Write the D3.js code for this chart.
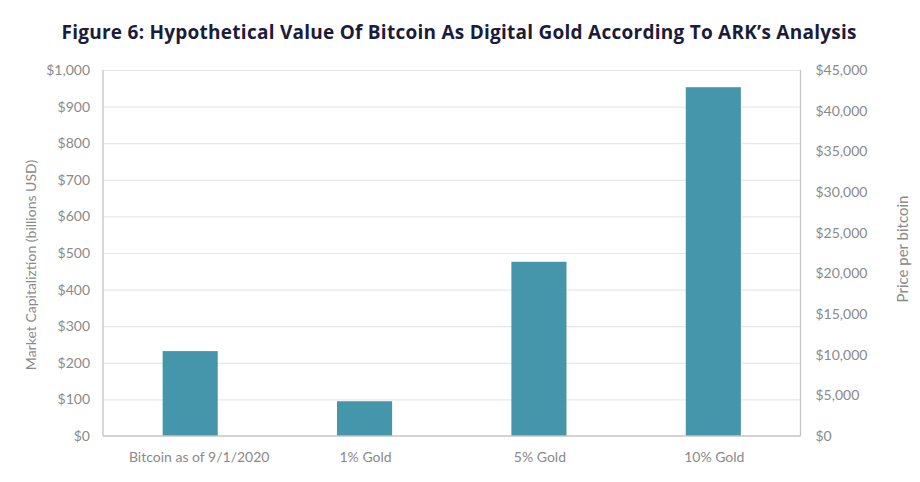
<!DOCTYPE html>
<html>
<head>
<meta charset="utf-8">
<script src="https://cdn.jsdelivr.net/npm/d3@7"></script>
<style>
  html, body { margin: 0; padding: 0; background: #fff; }
  svg { display: block; }
</style>
</head>
<body>
<svg id="chart" width="920" height="482"></svg>
<script>
const categories = ["Bitcoin as of 9/1/2020", "1% Gold", "5% Gold", "10% Gold"];
const marketCap = [232, 95, 476, 953];
const leftTicks = [0, 100, 200, 300, 400, 500, 600, 700, 800, 900, 1000];
const rightTicks = [0, 5000, 10000, 15000, 20000, 25000, 30000, 35000, 40000, 45000];
const titleText = "Figure 6: Hypothetical Value Of Bitcoin As Digital Gold According To ARK\u2019s Analysis";
const leftLabel = "Market Capitaliztion (billions USD)";
const rightLabel = "Price per bitcoin";

const svg = d3.select("#chart");
const margin = { left: 103, right: 120, top: 70, bottom: 46 };
const W = 920, H = 482;
const x0 = margin.left, x1 = W - margin.right + 0.5;
const yTop = margin.top, yBot = H - margin.bottom;

const x = d3.scaleBand().domain(categories).range([x0, x1]).paddingInner(0.684).paddingOuter(0.342);
const yL = d3.scaleLinear().domain([0, 1000]).range([yBot, yTop]);
const yR = d3.scaleLinear().domain([0, 45000]).range([yBot, yTop]);

const textColor = "#8a8a8a";
const font = "Lato, 'Open Sans', sans-serif";

// title
svg.append("text").attr("x", 459).attr("y", 39).attr("text-anchor", "middle")
  .attr("font-family", "'Open Sans', Lato, sans-serif").attr("font-weight", 700)
  .attr("font-size", 19).attr("fill", "#1b1b3a").attr("textLength", 795)
  .text(titleText);

// gridlines
svg.append("g").selectAll("line").data(leftTicks.filter(d => d > 0)).join("line")
  .attr("x1", x0).attr("x2", x1).attr("y1", d => yL(d) + 0.5).attr("y2", d => yL(d) + 0.5)
  .attr("stroke", "#e8e8e8").attr("stroke-width", 1.2);

// bars
svg.append("g").selectAll("rect").data(categories).join("rect")
  .attr("x", d => x(d)).attr("width", x.bandwidth())
  .attr("y", (d, i) => yL(marketCap[i])).attr("height", (d, i) => yBot - yL(marketCap[i]))
  .attr("fill", "#4596ab");

// frame axis lines
const frame = svg.append("g").attr("stroke", "#c4c4c4").attr("stroke-width", 1.3).attr("fill", "none");
frame.append("line").attr("x1", x0).attr("x2", x0).attr("y1", yTop).attr("y2", yBot);
frame.append("line").attr("x1", x1).attr("x2", x1).attr("y1", yTop).attr("y2", yBot);
frame.append("line").attr("x1", x0).attr("x2", x1).attr("y1", yBot).attr("y2", yBot);

// left axis
const leftAxis = d3.axisLeft(yL).tickValues(leftTicks).tickSize(0).tickPadding(13)
  .tickFormat(d => "$" + d3.format(",")(d));
const gL = svg.append("g").attr("transform", `translate(${x0},0)`).call(leftAxis);
gL.select(".domain").remove();
gL.selectAll("text").attr("font-family", font).attr("font-size", 14).attr("fill", textColor);

// right axis
const rightAxis = d3.axisRight(yR).tickValues(rightTicks).tickSize(0).tickPadding(15)
  .tickFormat(d => "$" + d3.format(",")(d));
const gR = svg.append("g").attr("transform", `translate(${x1},0)`).call(rightAxis);
gR.select(".domain").remove();
gR.selectAll("text").attr("font-family", font).attr("font-size", 14).attr("fill", textColor);

// bottom axis
const bottomAxis = d3.axisBottom(x).tickSize(0).tickPadding(16);
const gB = svg.append("g").attr("transform", `translate(0,${yBot})`).call(bottomAxis);
gB.select(".domain").remove();
gB.selectAll("text").attr("font-family", font).attr("font-size", 14).attr("fill", textColor)
  .attr("dx", (d, i) => i === 0 ? 9 : 1);

// axis titles
svg.append("text").attr("transform", `translate(36,${(yTop + yBot) / 2 + 12}) rotate(-90)`)
  .attr("text-anchor", "middle").attr("font-family", font).attr("font-size", 14)
  .attr("fill", textColor).text(leftLabel);
svg.append("text").attr("transform", `translate(908,${(yTop + yBot) / 2 - 4}) rotate(-90)`)
  .attr("text-anchor", "middle").attr("font-family", font).attr("font-size", 15)
  .attr("fill", textColor).text(rightLabel);
</script>
</body>
</html>
